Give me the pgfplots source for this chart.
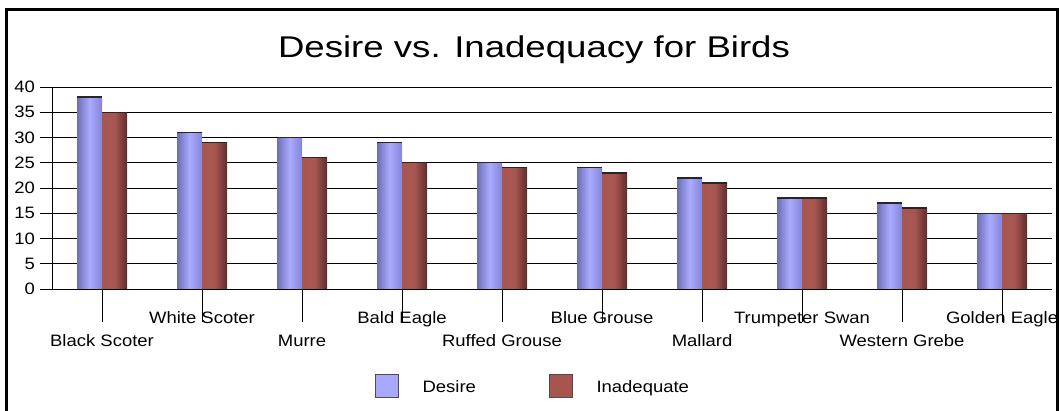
\documentclass[border=0pt]{standalone}
\usepackage{pgfplots}
\pgfplotsset{compat=1.18}
\usepackage{fontspec}
\setmainfont{Liberation Sans}[FakeStretch=1.12]
\newfontfamily\titlefont{Liberation Sans}[FakeStretch=1.22]
\definecolor{desL}{HTML}{6E6EB4}
\definecolor{desM}{HTML}{AAAAFF}
\definecolor{desR}{HTML}{8484D8}
\definecolor{inaL}{HTML}{A65651}
\definecolor{inaM}{HTML}{A85651}
\definecolor{inaR}{HTML}{5E2E2E}
\definecolor{desF}{HTML}{A8A8FF}
\definecolor{inaF}{HTML}{A8544F}

\pgfplotsset{
  des/.style={ybar, bar width=25pt, bar shift=-12.5pt, draw=none,
    left color=desL, right color=desR, middle color=desM, forget plot},
  ina/.style={ybar, bar width=25pt, bar shift=12.5pt, draw=none,
    left color=inaL, right color=inaR, middle color=inaM, forget plot},
  topline/.style={only marks, mark=-, mark size=12.5pt,
    mark options={draw=black!85, line width=1.4pt}, forget plot},
}

\begin{document}
\begin{tikzpicture}[x=1pt,y=1pt]
\useasboundingbox (0pt,0pt) rectangle (1060pt,411pt);
\begin{axis}[
  at={(52pt,122pt)}, anchor=south west,
  scale only axis, width=1000pt, height=202pt,
  xmin=-0.5, xmax=9.5, ymin=0, ymax=40,
  ytick={0,5,...,40},
  axis x line*=bottom, axis y line*=left,
  axis line style={black, line width=0.8pt},
  ymajorgrids, grid style={black, line width=0.8pt},
  tick align=outside,
  major tick length=12pt,
  tick style={black, line width=0.8pt},
  xtick={0,2,4,6,8},
  xticklabels={Black Scoter, Murre, Ruffed Grouse, Mallard, Western Grebe},
  extra x ticks={1,3,5,7,9},
  extra x tick labels={White Scoter, Bald Eagle, Blue Grouse, Trumpeter Swan, Golden Eagle},
  xtick style={/pgfplots/major tick length=33pt},
  x tick label style={anchor=base, yshift=-46pt},
  extra x tick style={/pgfplots/major tick length=11pt, x tick label style={yshift=22pt}},
  tick label style={font=\fontsize{16.5}{16.5}\selectfont},
  y tick label style={xshift=-1.5pt},
  /pgf/number format/assume math mode=true,
  legend style={at={(axis description cs:0.48,-0.4774)}, anchor=center,
    draw=none, fill=none, legend columns=2,
    font=\fontsize{16.5}{16.5}\selectfont,
    nodes={inner sep=0pt},
    /tikz/every even column/.append style={column sep=73pt}},
  clip=false,
]
% Desire
\addplot[des] coordinates {(0,38)};
\addplot[des] coordinates {(1,31)};
\addplot[des] coordinates {(2,30)};
\addplot[des] coordinates {(3,29)};
\addplot[des] coordinates {(4,25)};
\addplot[des] coordinates {(5,24)};
\addplot[des] coordinates {(6,22)};
\addplot[des] coordinates {(7,18)};
\addplot[des] coordinates {(8,17)};
\addplot[des] coordinates {(9,15)};
% Inadequate
\addplot[ina] coordinates {(0,35)};
\addplot[ina] coordinates {(1,29)};
\addplot[ina] coordinates {(2,26)};
\addplot[ina] coordinates {(3,25)};
\addplot[ina] coordinates {(4,24)};
\addplot[ina] coordinates {(5,23)};
\addplot[ina] coordinates {(6,21)};
\addplot[ina] coordinates {(7,18)};
\addplot[ina] coordinates {(8,16)};
\addplot[ina] coordinates {(9,15)};
% top edges of the bars
\addplot[topline] coordinates {(-0.125,38) (0.875,31) (1.875,30) (2.875,29) (3.875,25)
  (4.875,24) (5.875,22) (6.875,18) (7.875,17) (8.875,15)};
\addplot[topline] coordinates {(0.125,35) (1.125,29) (2.125,26) (3.125,25) (4.125,24)
  (5.125,23) (6.125,21) (7.125,18) (8.125,16) (9.125,15)};
\addlegendimage{legend image code/.code={
    \fill[desF] (0pt,-10.1pt) rectangle (23pt,12.9pt);
    \draw[black!70, line width=0.7pt] (0pt,-10.1pt) rectangle (23pt,12.9pt);
    \path (47pt,0pt);}}
\addlegendentry{Desire}
\addlegendimage{legend image code/.code={
    \fill[inaF] (0pt,-10.1pt) rectangle (23pt,12.9pt);
    \draw[black!70, line width=0.7pt] (0pt,-10.1pt) rectangle (23pt,12.9pt);
    \path (47pt,0pt);}}
\addlegendentry{Inadequate}
\end{axis}
\node[anchor=base, font=\titlefont\fontsize{30}{30}\selectfont] at (534pt,353pt) {Desire vs. Inadequacy for Birds};
\draw[line width=3pt] (6.5pt,-20pt) -- (6.5pt,401.5pt) -- (1057.5pt,401.5pt) -- (1057.5pt,-20pt);
\end{tikzpicture}
\end{document}
